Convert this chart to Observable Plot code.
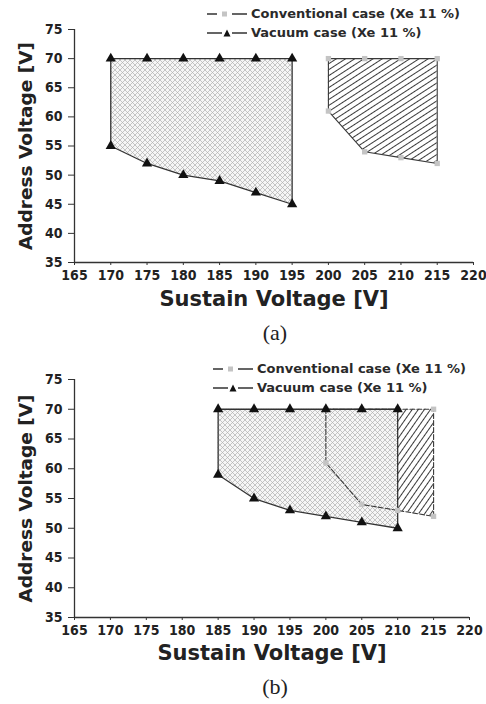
<!DOCTYPE html>
<html><head><meta charset="utf-8">
<script src="https://cdn.jsdelivr.net/npm/d3@7"></script>
<script src="https://cdn.jsdelivr.net/npm/@observablehq/plot@0.6"></script>
<style>
body{margin:0;background:#fff;width:486px;height:704px;position:relative;overflow:hidden;font-family:"DejaVu Sans",sans-serif;}
.panel{position:absolute;left:0;}
.legend{position:absolute;font:bold 13px "DejaVu Sans",sans-serif;color:#2a2a2a;}
.legend .row{display:flex;align-items:center;height:19px;white-space:nowrap;}
.legend svg{margin-right:4px;}
.cap{position:absolute;left:0;width:550px;text-align:center;font:22px "Liberation Serif",serif;color:#222;}
</style></head>
<body>
<svg width="0" height="0" style="position:absolute">
<defs>
<pattern id="crossA" width="5" height="5" patternUnits="userSpaceOnUse">
<rect width="5" height="5" fill="#f6f6f6"/>
<path d="M0,0L5,5M5,0L0,5" stroke="#b0b0b0" stroke-width="0.7" fill="none"/>
</pattern>
<pattern id="hatchA" width="5" height="5" patternUnits="userSpaceOnUse" patternTransform="rotate(-33)">
<rect width="5" height="5" fill="#fff"/>
<path d="M0,2.5H5" stroke="#3a3a3a" stroke-width="1" fill="none"/>
</pattern>
<pattern id="hatchB" width="5" height="5" patternUnits="userSpaceOnUse" patternTransform="rotate(-55)">
<rect width="5" height="5" fill="#fff"/>
<path d="M0,2.5H5" stroke="#3a3a3a" stroke-width="1" fill="none"/>
</pattern>
</defs>
</svg>
<div id="a" class="panel" style="top:0"></div>
<div id="b" class="panel" style="top:340px"></div>
<div class="cap" style="top:320px">(a)</div>
<div class="cap" style="top:674px">(b)</div>
<div id="legA" class="legend" style="left:207px;top:4px"></div>
<div id="legB" class="legend" style="left:213px;top:359px"></div>
<script>
// ---- data ----
const xTicks = [165,170,175,180,185,190,195,200,205,210,215,220];
const yTicks = [35,40,45,50,55,60,65,70,75];
const seriesNames = ["Conventional case (Xe 11 %)", "Vacuum case (Xe 11 %)"];

const aVacSustain = [170,175,180,185,190,195];
const aVacLower   = [55,52,50,49,47,45];
const aVacUpper   = [70,70,70,70,70,70];
const aConvSustain = [200,205,210,215];
const aConvLower   = [61,54,53,52];
const aConvUpper   = [70,70,70,70];

const bVacSustain = [185,190,195,200,205,210];
const bVacLower   = [59,55,53,52,51,50];
const bVacUpper   = [70,70,70,70,70,70];
const bConvSustain = [200,205,210,215];
const bConvLower   = [61,54,53,52];
const bConvUpper   = [70,70,70,70];

function rows(xs, lo, up){ return xs.map((x,i)=>({x, lower: lo[i], upper: up[i]})); }
function ring(r){
  const top = r.map(d=>({x:d.x, y:d.upper}));
  const bot = r.slice().reverse().map(d=>({x:d.x, y:d.lower}));
  return [...top, ...bot, top[0]];
}
function pts(r){ return r.flatMap(d=>[{x:d.x,y:d.upper},{x:d.x,y:d.lower}]); }

function panel(vac, conv, o){
  return Plot.plot({
    width: 486, height: o.height,
    marginLeft: 74, marginRight: o.marginRight, marginTop: o.marginTop, marginBottom: o.marginBottom,
    style: {fontFamily: "DejaVu Sans", fontWeight: "bold", color: "#222", background: "transparent"},
    x: {domain: [165,220]},
    y: {domain: [35,75]},
    marks: [
      Plot.areaY(conv, {x:"x", y1:"lower", y2:"upper", fill: o.hatch, curve:"linear"}),
      Plot.areaY(vac, {x:"x", y1:"lower", y2:"upper", fill: "url(#crossA)", curve:"linear"}),
      Plot.line(ring(conv), {x:"x", y:"y", stroke:"#3a3a3a", strokeWidth:1.1, strokeDasharray: o.dash}),
      Plot.line(ring(vac), {x:"x", y:"y", stroke:"#333", strokeWidth:1.3}),
      Plot.dot(pts(conv), {x:"x", y:"y", symbol:"square", r:3, fill:"#c4c4c4", stroke:"none"}),
      Plot.dot(pts(vac), {x:"x", y:"y", symbol:"triangle", r:3.8, fill:"#111", stroke:"none"}),
      Plot.axisX({ticks: xTicks, tickSize: 3, tickPadding: 5, fontSize: 14, fontFamily: "DejaVu Sans Condensed", label: null, stroke:"#333"}),
      Plot.axisY({ticks: yTicks, tickSize: 6, tickPadding: 6, fontSize: 14, fontFamily: "DejaVu Sans Condensed", label: null, stroke:"#333"}),
      Plot.axisX({ticks: [], tickSize: 0, label: "Sustain Voltage [V]", labelAnchor: "center", labelArrow: "none", labelOffset: o.xLabelOffset, fontSize: 21}),
      Plot.axisY({ticks: [], tickSize: 0, label: "Address Voltage [V]", labelAnchor: "center", labelArrow: "none", labelOffset: 56, fontSize: 18.5}),
      Plot.ruleX([165], {stroke:"#333", strokeWidth:1.3}),
      Plot.ruleY([35], {stroke:"#333", strokeWidth:1.3})
    ]
  });
}

document.getElementById("a").appendChild(panel(rows(aVacSustain,aVacLower,aVacUpper), rows(aConvSustain,aConvLower,aConvUpper),
  {height: 318, marginTop: 29, marginBottom: 56, marginRight: 13, hatch: "url(#hatchA)", dash: null, xLabelOffset: 43}));
document.getElementById("b").appendChild(panel(rows(bVacSustain,bVacLower,bVacUpper), rows(bConvSustain,bConvLower,bConvUpper),
  {height: 325, marginTop: 39, marginBottom: 48, marginRight: 17, hatch: "url(#hatchB)", dash: "5,2", xLabelOffset: 42}));

function legend(el){
  const sym = [
    '<svg width="40" height="10"><path d="M0,5H10M25,5H40" stroke="#333" stroke-width="1.3"/><rect x="15" y="2.5" width="5" height="5" fill="#c4c4c4"/></svg>',
    '<svg width="40" height="10"><path d="M0,5H15M25,5H40" stroke="#333" stroke-width="1.3"/><path d="M16.5,8.5L20,1.5L23.5,8.5Z" fill="#111"/></svg>'
  ];
  el.innerHTML = seriesNames.map((n,i)=>`<div class="row">${sym[i]}<span>${n}</span></div>`).join("");
}
legend(document.getElementById("legA"));
legend(document.getElementById("legB"));
</script>
</body></html>
